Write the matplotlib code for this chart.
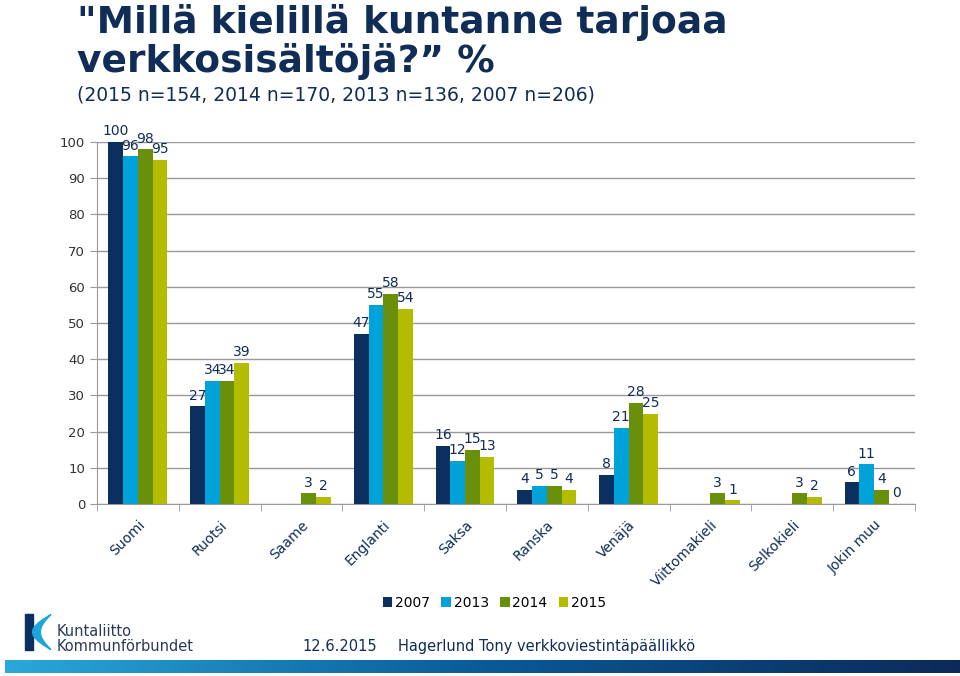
import numpy as np
import matplotlib.pyplot as plt
from matplotlib.patches import Rectangle, Polygon
from matplotlib.colors import LinearSegmentedColormap

# data
categories = ['Suomi', 'Ruotsi', 'Saame', 'Englanti', 'Saksa', 'Ranska',
              'Venäjä', 'Viittomakieli', 'Selkokieli', 'Jokin muu']
years = ['2007', '2013', '2014', '2015']
v2007 = [100, 27, np.nan, 47, 16, 4, 8, np.nan, np.nan, 6]
v2013 = [96, 34, np.nan, 55, 12, 5, 21, np.nan, np.nan, 11]
v2014 = [98, 34, 3, 58, 15, 5, 28, 3, 3, 4]
v2015 = [95, 39, 2, 54, 13, 4, 25, 1, 2, 0]
series = [v2007, v2013, v2014, v2015]
colors = ['#0b2f5e', '#00a3d9', '#6a8f0a', '#b4bc00']

navy = '#0f2d57'

fig = plt.figure(figsize=(9.6, 6.76), dpi=100)
ax = fig.add_axes([0.101, 0.2544, 0.852, 0.5356])

x = np.arange(len(categories))
w = 0.18
for i, (vals, c) in enumerate(zip(series, colors)):
    pos = x + (i - 1.5) * w
    ax.bar(pos, np.nan_to_num(vals), width=w, color=c, label=years[i], zorder=3)
    for p, v in zip(pos, vals):
        if np.isnan(v):
            continue
        ax.text(p, v + 1.0, '%d' % v, ha='center', va='bottom', fontsize=10,
                color=navy, zorder=4)

ax.set_xlim(-0.5, len(categories) - 0.5)
ax.set_ylim(0, 100)
ax.set_yticks(np.arange(0, 101, 10))
ax.yaxis.grid(True, color='#999999', linewidth=1, zorder=0)
for s in ['top', 'right']:
    ax.spines[s].set_visible(False)
ax.spines['left'].set_color('#999999')
ax.spines['bottom'].set_color('#999999')
ax.tick_params(axis='y', colors='#999999', labelcolor='#333333', labelsize=9.5, length=5)
ax.set_xticks(x)
ax.set_xticklabels(categories, rotation=45, ha='right', rotation_mode='anchor',
                   fontsize=10, color=navy)
ax.set_xticks(np.arange(-0.5, len(categories), 1), minor=True)
ax.tick_params(axis='x', which='major', length=0, pad=10)
ax.tick_params(axis='x', which='minor', length=5, colors='#999999')

fig.legend(loc='center', bbox_to_anchor=(0.515, 0.108), ncol=4, frameon=False,
           fontsize=10, handlelength=0.7, handleheight=0.7, handletextpad=0.2,
           columnspacing=0.8)

# title, two lines placed by baseline
fig.text(0.08, 0.951, '"Millä kielillä kuntanne tarjoaa', ha='left', va='baseline',
         fontsize=27, fontweight='bold', color=navy)
fig.text(0.08, 0.893, 'verkkosisältöjä?” %', ha='left', va='baseline',
         fontsize=27, fontweight='bold', color=navy)
fig.text(0.08, 0.859, '(2015 n=154, 2014 n=170, 2013 n=136, 2007 n=206)',
         ha='left', va='center', fontsize=13.5, color=navy)

# footer
fig.text(0.315, 0.043, '12.6.2015', ha='left', va='center', fontsize=10.5, color=navy)
fig.text(0.415, 0.043, 'Hagerlund Tony verkkoviestintäpäällikkö', ha='left',
         va='center', fontsize=10.5, color=navy)

# logo: navy bar + cyan swoosh
fig.patches.append(Rectangle((0.026, 0.039), 0.008, 0.052, transform=fig.transFigure,
                             color='#0b2f5e'))
t = np.linspace(0, 1, 40)
outer_x = 0.053 - 0.019 * np.sin(np.pi * t)
outer_y = 0.091 - 0.052 * t
inner_x = 0.053 - 0.011 * np.sin(np.pi * t[::-1])
inner_y = 0.091 - 0.052 * t[::-1]
pts = np.column_stack([np.r_[outer_x, inner_x], np.r_[outer_y, inner_y]])
fig.patches.append(Polygon(pts, closed=True, transform=fig.transFigure, color='#19a6d8'))
fig.text(0.059, 0.066, 'Kuntaliitto', ha='left', va='center', fontsize=10.5, color='#2b3a55')
fig.text(0.059, 0.043, 'Kommunförbundet', ha='left', va='center', fontsize=10.5, color='#2b3a55')

# gradient strip at the bottom
gax = fig.add_axes([0.005, 0.005, 0.995, 0.019])
grad = np.linspace(0, 1, 256).reshape(1, -1)
cm = LinearSegmentedColormap.from_list('strip', ['#2aa8da', '#0a5a96', '#0b2a5a'])
gax.imshow(grad, aspect='auto', cmap=cm)
gax.axis('off')

fig.savefig('out.png', dpi=100)
